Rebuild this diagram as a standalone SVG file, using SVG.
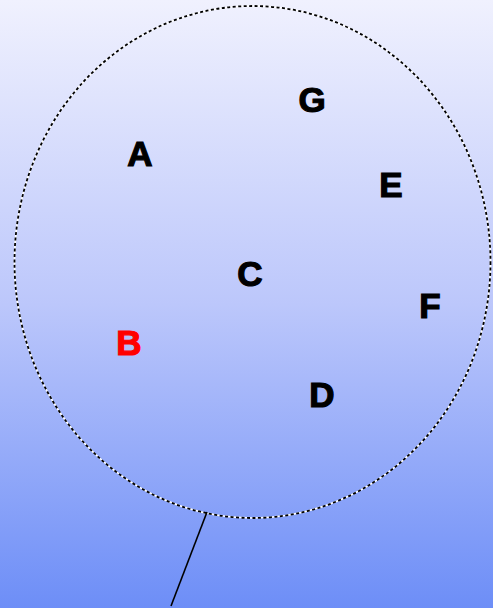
<svg xmlns="http://www.w3.org/2000/svg" width="493" height="608" viewBox="0 0 493 608">
<defs>
<linearGradient id="bg" x1="0" y1="0" x2="0" y2="1">
<stop offset="0" stop-color="#f0f1fe"/>
<stop offset="0.5" stop-color="#bcc7fb"/>
<stop offset="1" stop-color="#6d8ef7"/>
</linearGradient>
<style>
.lbl{font-family:"Liberation Sans",Arial,sans-serif;font-weight:bold;font-size:35px;text-anchor:middle;fill:#000;stroke:#000;stroke-width:1.2}
.red{fill:#ff0000;stroke:#ff0000}
.ring-w{fill:none;stroke:#ffffff;stroke-width:1.6}
.ring-b{fill:none;stroke:#000000;stroke-width:1.8;stroke-dasharray:3 2.5}
.conn{stroke:#000;stroke-width:1.6;fill:none}
</style>
</defs>
<rect x="0" y="0" width="493" height="608" fill="url(#bg)"/>
<g id="boundary">
<ellipse class="ring-w" cx="252.5" cy="262" rx="238" ry="256"/>
<ellipse class="ring-b" cx="252.5" cy="262" rx="238" ry="256"/>
</g>
<g id="connectors">
<line class="conn" x1="207" y1="512" x2="171" y2="606"/>
</g>
<g id="node-A"><text class="lbl" x="140" y="166">A</text></g>
<g id="node-G"><text class="lbl" x="312" y="112">G</text></g>
<g id="node-E"><text class="lbl" x="391" y="197">E</text></g>
<g id="node-F"><text class="lbl" x="430" y="318">F</text></g>
<g id="node-C"><text class="lbl" x="250" y="286">C</text></g>
<g id="node-B"><text class="lbl red" x="129" y="355">B</text></g>
<g id="node-D"><text class="lbl" x="322" y="407">D</text></g>
</svg>
